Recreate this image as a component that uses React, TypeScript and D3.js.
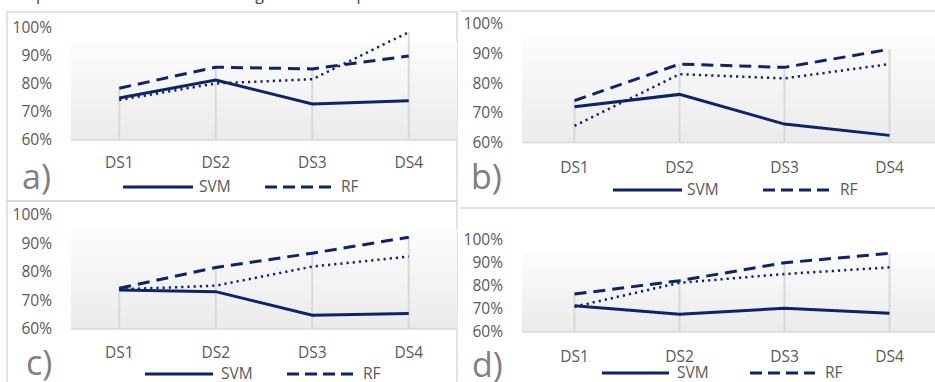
import React from "react";
import * as d3 from "d3";

const categories = ["DS1", "DS2", "DS3", "DS4"];
const yTicks = [60, 70, 80, 90, 100];
const seriesNames = ["SVM", "RF", "Other"];
const panelLetters = ["a)", "b)", "c)", "d)"];

const svmA = [75.0, 81.4, 72.9, 74.0];
const rfA = [78.5, 86.0, 85.4, 90.0];
const otherA = [74.3, 80.2, 81.7, 98.5];

const svmB = [72.0, 76.2, 66.2, 62.4];
const rfB = [74.1, 86.4, 85.3, 91.4];
const otherB = [65.6, 83.0, 81.6, 86.4];

const svmC = [73.7, 73.1, 64.8, 65.4];
const rfC = [74.3, 81.6, 86.6, 92.2];
const otherC = [73.9, 75.2, 81.9, 85.4];

const svmD = [71.4, 67.7, 70.3, 68.1];
const rfD = [76.5, 82.3, 90.1, 94.2];
const otherD = [71.0, 81.4, 85.2, 88.1];

const panelData = [
  [svmA, rfA, otherA],
  [svmB, rfB, otherB],
  [svmC, rfC, otherC],
  [svmD, rfD, otherD],
];

// layout only
const layouts = [
  { x0: 71, x1: 457, yTop: 28, yBot: 140, labelX: 52, dsY: 163, letterX: 22, letterY: 177, legY: 187, solid: [123, 193], svmX: 199, dash: [265, 332], rfX: 341 },
  { x0: 522, x1: 942, yTop: 23.7, yBot: 142.5, labelX: 503, dsY: 168, letterX: 471, letterY: 177, legY: 190, solid: [613, 682], svmX: 687, dash: [763, 830], rfX: 840 },
  { x0: 71, x1: 457, yTop: 215, yBot: 329, labelX: 52, dsY: 353, letterX: 26, letterY: 363, legY: 374, solid: [145, 213], svmX: 221, dash: [287, 353], rfX: 363 },
  { x0: 522, x1: 942, yTop: 240, yBot: 332, labelX: 503, dsY: 357, letterX: 472, letterY: 365, legY: 373, solid: [602, 669], svmX: 677, dash: [750, 815], rfX: 825 },
];

const NAVY = "#0e2466";
const TXT = "#595959";
const FONT = "'Open Sans', sans-serif";
const dashes = [null, "12,7", "2.2,4"];

function Panel({ idx }: { idx: number }) {
  const L = layouts[idx];
  const data = panelData[idx];
  const x = d3.scaleBand().domain(categories).range([L.x0, L.x1]);
  const cx = (c: string) => (x(c) as number) + x.bandwidth() / 2;
  const y = d3.scaleLinear().domain([60, 100]).range([L.yBot, L.yTop]);
  const line = d3
    .line<number>()
    .x((_, i) => cx(categories[i]))
    .y((v) => y(v));
  const maxes = categories.map((_, i) => d3.max(data.map((s) => s[i])) as number);
  return (
    <g>
      <rect x={L.x0} y={y(95)} width={L.x1 - L.x0} height={L.yBot - y(95)} fill="url(#grad)" />
      {categories.map((c, i) => (
        <line key={c} x1={cx(c)} x2={cx(c)} y1={L.yBot} y2={y(maxes[i])} stroke="#d9d9d9" strokeWidth={2} />
      ))}
      <line x1={L.x0} x2={L.x1} y1={L.yBot} y2={L.yBot} stroke="#d9d9d9" strokeWidth={1.5} />
      {yTicks.map((t) => (
        <text key={t} x={L.labelX} y={y(t)} dy="0.35em" textAnchor="end" fontSize={15.5} fill={TXT} fontFamily={FONT}>
          {t}%
        </text>
      ))}
      {categories.map((c) => (
        <text key={c} x={cx(c)} y={L.dsY} dy="0.35em" textAnchor="middle" fontSize={15.5} fill={TXT} fontFamily={FONT}>
          {c}
        </text>
      ))}
      {data.map((s, si) => (
        <path
          key={si}
          d={line(s) as string}
          fill="none"
          stroke={NAVY}
          strokeWidth={si === 2 ? 2.5 : 3}
          strokeDasharray={dashes[si] ?? undefined}
        />
      ))}
      <text x={L.letterX} y={L.letterY} dy="0.35em" fontSize={34} fill="#7f7f7f" fontFamily={FONT}>
        {panelLetters[idx]}
      </text>
      <line x1={L.solid[0]} x2={L.solid[1]} y1={L.legY} y2={L.legY} stroke={NAVY} strokeWidth={3} />
      <text x={L.svmX} y={L.legY} dy="0.35em" fontSize={15.5} fill={TXT} fontFamily={FONT}>
        {seriesNames[0]}
      </text>
      <line x1={L.dash[0]} x2={L.dash[1]} y1={L.legY} y2={L.legY} stroke={NAVY} strokeWidth={3} strokeDasharray="12,6" />
      <text x={L.rfX} y={L.legY} dy="0.35em" fontSize={15.5} fill={TXT} fontFamily={FONT}>
        {seriesNames[1]}
      </text>
    </g>
  );
}

export default function App() {
  return (
    <svg width={935} height={382} style={{ position: "absolute", left: 0, top: 0, background: "#fff" }}>
      <defs>
        <linearGradient id="grad" x1="0" y1="0" x2="0" y2="1">
          <stop offset="0" stopColor="#fcfcfc" />
          <stop offset="1" stopColor="#ebebeb" />
        </linearGradient>
      </defs>
      <rect width={935} height={382} fill="#fff" />
      <text x={4} y={-0.5} fontSize={16} fill="#404040" fontFamily={FONT}>
        comparison of the rates and changes in the output results
      </text>
      {/* panel borders */}
      <rect x={7} y={12} width={450} height={189} fill="none" stroke="#d9d9d9" strokeWidth={1.5} />
      <rect x={7} y={201} width={450} height={190} fill="none" stroke="#d9d9d9" strokeWidth={1.5} />
      <line x1={460} x2={935} y1={11} y2={11} stroke="#d9d9d9" strokeWidth={1.5} />
      <line x1={460} x2={935} y1={208} y2={208} stroke="#d9d9d9" strokeWidth={1.5} />
      {layouts.map((_, i) => (
        <Panel key={i} idx={i} />
      ))}
    </svg>
  );
}
